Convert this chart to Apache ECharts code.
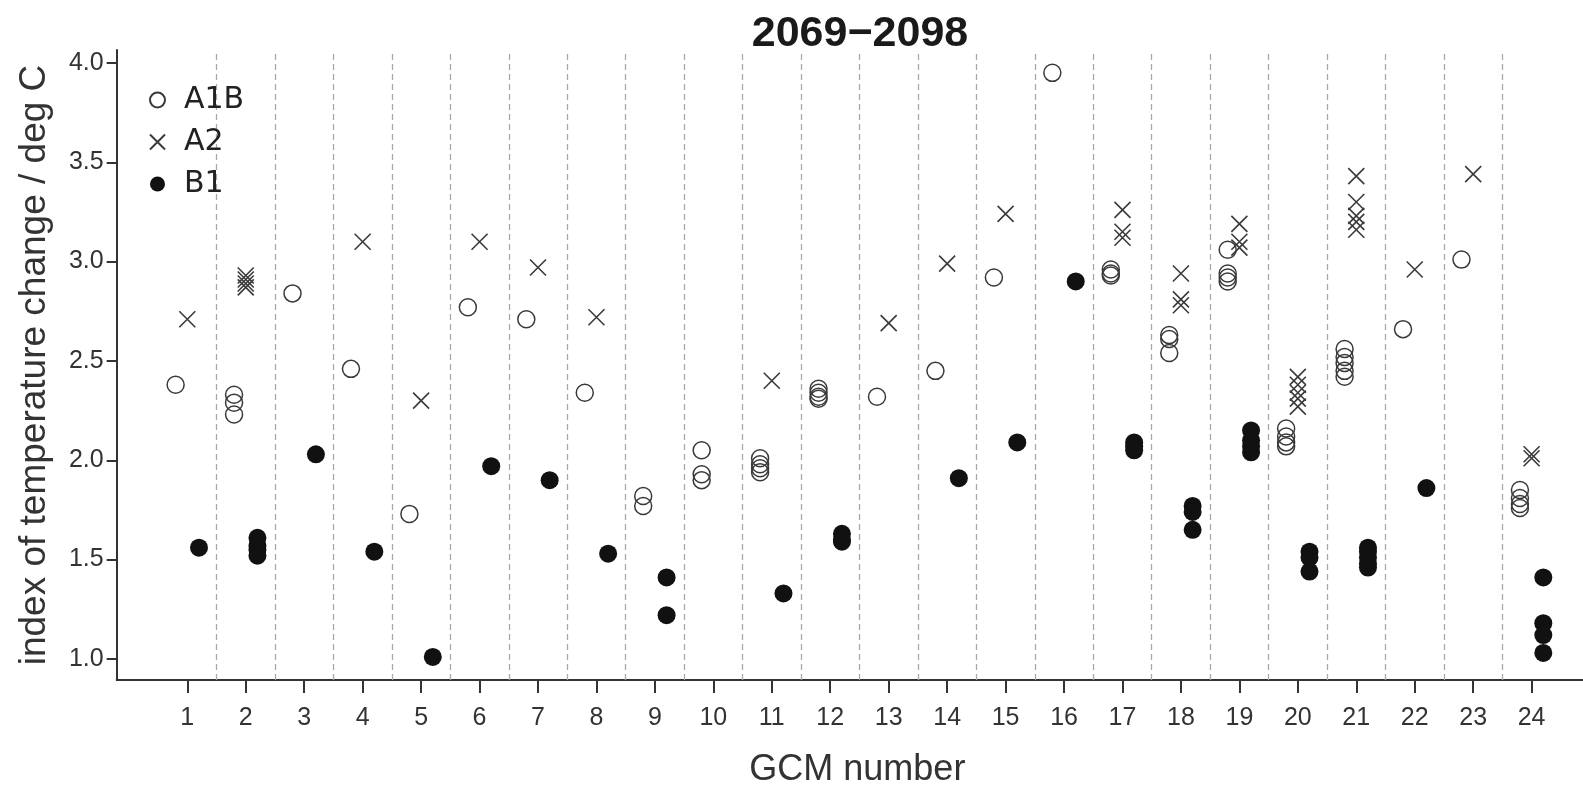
<!DOCTYPE html>
<html>
<head>
<meta charset="utf-8">
<title>2069−2098</title>
<script src="https://cdn.jsdelivr.net/npm/echarts@6/dist/echarts.min.js"></script>
<style>
  html, body { margin: 0; padding: 0; background: #fff; }
  #chart { width: 1583px; height: 787px; }
</style>
</head>
<body>
<div id="chart"></div>
<script>
// GCM numbers along the x axis
const gcm = [1, 2, 3, 4, 5, 6, 7, 8, 9, 10, 11, 12, 13, 14, 15, 16, 17, 18, 19, 20, 21, 22, 23, 24];

// Index of temperature change (deg C) per GCM, one list per model run set
const a1b = [
  [2.38], [2.33, 2.29, 2.23], [2.84], [2.46], [1.73], [2.77], [2.71], [2.34],
  [1.82, 1.77], [2.05, 1.93, 1.90], [2.01, 1.98, 1.96, 1.94], [2.36, 2.34, 2.32, 2.31],
  [2.32], [2.45], [2.92], [3.95], [2.96, 2.94, 2.93], [2.63, 2.61, 2.54],
  [3.06, 2.94, 2.92, 2.90], [2.16, 2.12, 2.09, 2.07], [2.56, 2.52, 2.49, 2.45, 2.42],
  [2.66], [3.01], [1.85, 1.81, 1.78, 1.76]
];
const a2 = [
  [2.71], [2.93, 2.91, 2.89, 2.87], [], [3.10], [2.30], [3.10], [2.97], [2.72],
  [], [], [2.40], [], [2.69], [2.99], [3.24], [], [3.26, 3.15, 3.12], [2.94, 2.81, 2.78],
  [3.19, 3.10, 3.07], [2.42, 2.38, 2.34, 2.31, 2.27], [3.43, 3.30, 3.23, 3.20, 3.16],
  [2.96], [3.44], [2.03, 2.01]
];
const b1 = [
  [1.56], [1.61, 1.57, 1.55, 1.52], [2.03], [1.54], [1.01], [1.97], [1.90], [1.53],
  [1.41, 1.22], [], [1.33], [1.63, 1.60, 1.59], [], [1.91], [2.09], [2.90],
  [2.09, 2.07, 2.05], [1.77, 1.74, 1.65], [2.15, 2.10, 2.07, 2.04], [1.54, 1.51, 1.44],
  [1.56, 1.54, 1.51, 1.48, 1.46], [1.86], [], [1.41, 1.18, 1.12, 1.03]
];

// y-axis tick values
const yTicks = [1.0, 1.5, 2.0, 2.5, 3.0, 3.5, 4.0];

// Each scenario sits at a small horizontal offset from its GCM number
const offsets = { A1B: -0.2, A2: 0, B1: 0.2 };

function toPoints(groups, offset) {
  const pts = [];
  groups.forEach((vals, i) => {
    vals.forEach(v => pts.push([gcm[i] + offset, v]));
  });
  return pts;
}

const separators = gcm.slice(0, -1).map(g => ({ xAxis: g + 0.5 }));
const crossPath = 'path://M0,0 L10,10 M10,0 L0,10';
const axisColor = '#333';
const textColor = '#333';

const chart = echarts.init(document.getElementById('chart'), null, { renderer: 'canvas' });

chart.setOption({
  backgroundColor: '#fff',
  animation: false,
  title: {
    text: '2069\u22122098',
    left: 855,
    textAlign: 'center',
    top: 8,
    textStyle: { fontFamily: 'Liberation Sans', fontWeight: 'bold', fontSize: 43, color: '#1a1a1a' }
  },
  legend: {
    orient: 'vertical',
    left: 144,
    top: 80,
    itemWidth: 15,
    itemHeight: 15,
    itemGap: 12,
    textStyle: { fontFamily: 'DejaVu Sans', fontSize: 30, color: '#222', padding: [0, 0, 0, 14] },
    data: ['A1B', 'A2', 'B1']
  },
  grid: { left: 116.7, right: 0, top: 50, bottom: 107, containLabel: false, outerBoundsMode: 'none' },
  xAxis: {
    type: 'value',
    min: -0.208,
    max: 24.879,
    name: 'GCM number',
    nameLocation: 'middle',
    nameGap: 72,
    nameTextStyle: { fontFamily: 'Liberation Sans', fontSize: 36, color: textColor, padding: [0, 0, 0, 15] },
    axisLine: { show: true, onZero: false, lineStyle: { color: axisColor, width: 2 } },
    axisTick: { show: true, inside: false, length: 13, customValues: gcm, lineStyle: { color: axisColor, width: 2 } },
    axisLabel: {
      customValues: gcm,
      margin: 26,
      fontFamily: 'Liberation Sans',
      fontSize: 25,
      color: textColor,
      formatter: v => String(Math.round(v))
    },
    splitLine: { show: false }
  },
  yAxis: {
    type: 'value',
    min: 0.894,
    max: 4.065,
    name: 'index of temperature change / deg C',
    nameLocation: 'middle',
    nameGap: 63,
    nameRotate: 90,
    nameTextStyle: { fontFamily: 'Liberation Sans', fontSize: 37, color: textColor },
    axisLine: { show: true, onZero: false, lineStyle: { color: axisColor, width: 2 } },
    axisTick: { show: true, inside: false, length: 10, customValues: yTicks, lineStyle: { color: axisColor, width: 2 } },
    axisLabel: {
      customValues: yTicks,
      margin: 13,
      fontFamily: 'Liberation Sans',
      fontSize: 25,
      color: textColor,
      formatter: v => v.toFixed(1)
    },
    splitLine: { show: false }
  },
  series: [
    {
      name: 'A1B',
      type: 'scatter',
      symbol: 'circle',
      symbolSize: 17,
      itemStyle: { color: 'rgba(0,0,0,0)', borderColor: '#3a3a3a', borderWidth: 1.5, opacity: 1 },
      data: toPoints(a1b, offsets.A1B),
      z: 3,
      markLine: {
        silent: true,
        symbol: ['none', 'none'],
        label: { show: false },
        lineStyle: { color: '#a8a8a8', type: [6, 4], width: 1.3 },
        emphasis: { disabled: true },
        data: separators,
        z: 1
      }
    },
    {
      name: 'A2',
      type: 'scatter',
      symbol: crossPath,
      symbolSize: 16,
      itemStyle: { color: 'rgba(0,0,0,0)', borderColor: '#3a3a3a', borderWidth: 1.6, opacity: 1 },
      data: toPoints(a2, offsets.A2),
      z: 3
    },
    {
      name: 'B1',
      type: 'scatter',
      symbol: 'circle',
      symbolSize: 18,
      itemStyle: { color: '#111', opacity: 1 },
      data: toPoints(b1, offsets.B1),
      z: 3
    }
  ]
});
</script>
</body>
</html>
